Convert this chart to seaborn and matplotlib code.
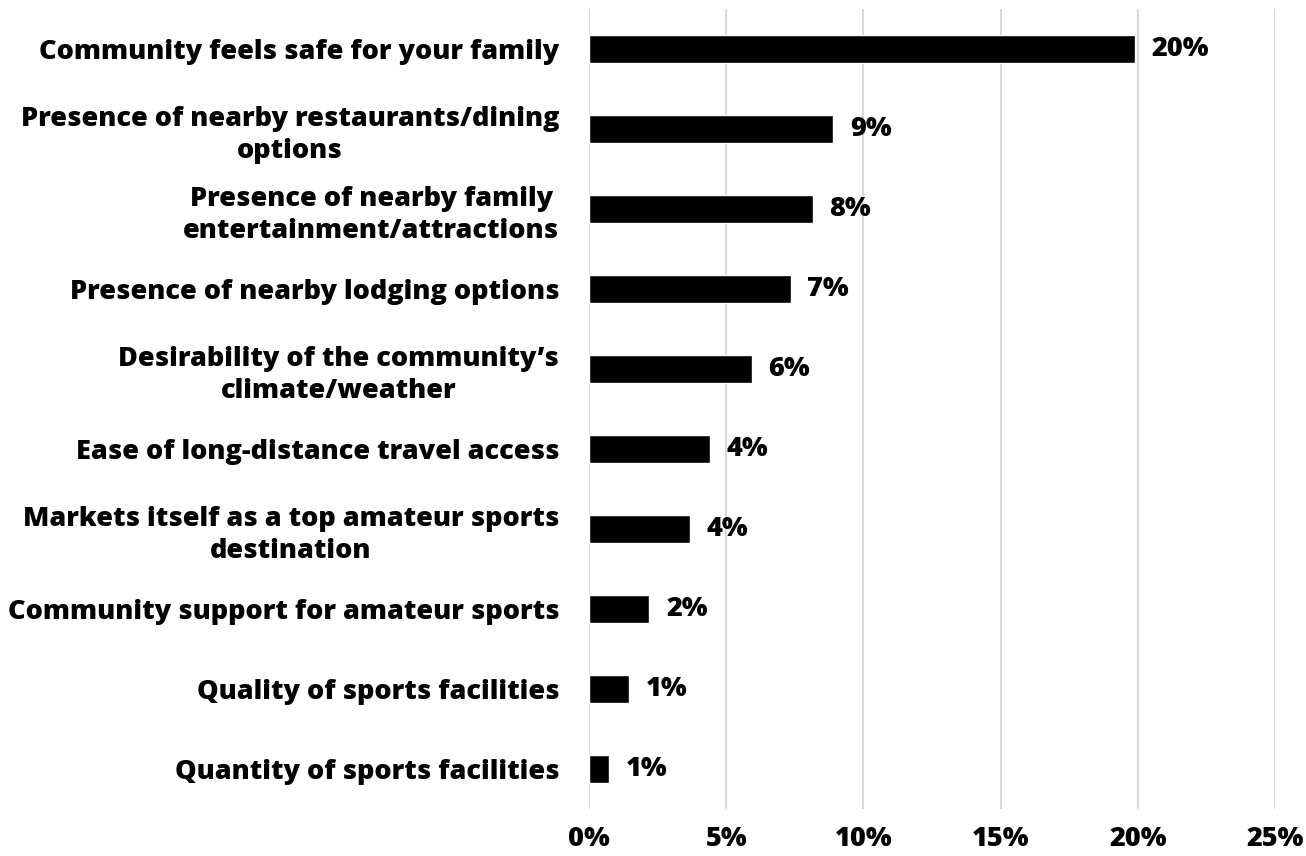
import matplotlib
matplotlib.use("Agg")
import matplotlib.pyplot as plt
import seaborn as sns
import pandas as pd
from matplotlib.ticker import PercentFormatter
from matplotlib import font_manager

factors = [
    "Community feels safe for your family",
    "Presence of nearby restaurants/dining\noptions",
    "Presence of nearby family\nentertainment/attractions",
    "Presence of nearby lodging options",
    "Desirability of the community\u2019s\nclimate/weather",
    "Ease of long-distance travel access",
    "Markets itself as a top amateur sports\ndestination",
    "Community support for amateur sports",
    "Quality of sports facilities",
    "Quantity of sports facilities",
]
share = [19.9, 8.9, 8.15, 7.35, 5.93, 4.42, 3.67, 2.2, 1.47, 0.73]
share_labels = ["20%", "9%", "8%", "7%", "6%", "4%", "4%", "2%", "1%", "1%"]
x_ticks = [0, 5, 10, 15, 20, 25]

df = pd.DataFrame({"factor": factors, "share": share})

sns.set_theme(style="white")
names = {f.name for f in font_manager.fontManager.ttflist}
fam = "Open Sans" if "Open Sans" in names else "DejaVu Sans"
plt.rcParams["font.family"] = [fam, "DejaVu Sans"]
plt.rcParams["text.color"] = "black"
plt.rcParams["xtick.color"] = "black"
plt.rcParams["ytick.color"] = "black"
fs = 19.5
wt = "heavy"

fig = plt.figure(figsize=(13.06, 8.56), dpi=100)
ax = fig.add_axes([0.451, 0.0549, 0.5253, 0.9346])

sns.barplot(data=df, x="share", y="factor", orient="h", color="black",
            width=0.35, saturation=1, ax=ax)

ax.set_xlim(0, 25)
ax.set_ylim(9.5, -0.5)
ax.set_xticks(x_ticks)
ax.xaxis.set_major_formatter(PercentFormatter(decimals=0))
ax.grid(axis="x", color="#d9d9d9", linewidth=1.5)
ax.set_axisbelow(True)
for s in ax.spines.values():
    s.set_visible(False)
ax.tick_params(axis="both", length=0, colors="black")
ax.tick_params(axis="x", pad=12)
ax.tick_params(axis="y", pad=21.5)
ax.set_xlabel("")
ax.set_ylabel("")

for lab in ax.get_xticklabels():
    lab.set_fontsize(fs)
    lab.set_fontweight(wt)
for lab in ax.get_yticklabels():
    lab.set_fontsize(fs)
    lab.set_fontweight(wt)
    lab.set_multialignment("center")
    lab.set_linespacing(1.28)

ax.bar_label(ax.containers[0], labels=share_labels, padding=12,
             fontsize=fs, fontweight=wt, color="black")

fig.savefig("out.png", dpi=100)
